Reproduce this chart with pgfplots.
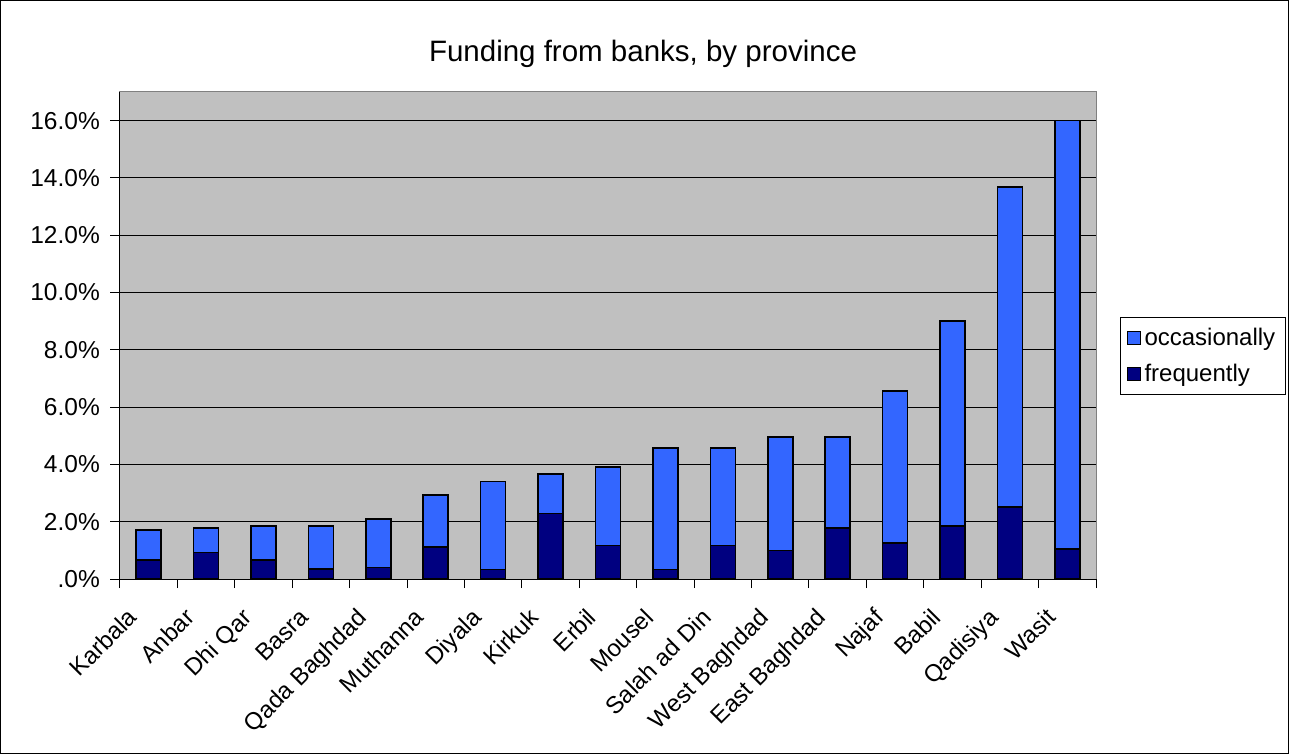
\documentclass[border=0pt]{standalone}
\usepackage{fontspec}
\setmainfont{Liberation Sans}
\usepackage{pgfplots}
\pgfplotsset{compat=1.18}
\definecolor{occ}{HTML}{3366FF}
\definecolor{freq}{HTML}{000080}
\definecolor{plotbg}{HTML}{C0C0C0}
\begin{document}
\begin{tikzpicture}[x=1pt,y=1pt]
\useasboundingbox (-120,-175) rectangle (1169,579);
\draw[black, line width=1pt] (-119.5,-174.5) rectangle (1168.5,578.5);
\begin{axis}[
  at={(0,0)}, anchor=south west,
  scale only axis, width=976pt, height=487pt,
  ybar stacked, bar width=25pt,
  xmin=-0.5, xmax=16.5, ymin=0, ymax=17,
  axis background/.style={fill=plotbg, draw=gray, line width=1pt},
  axis x line*=bottom, axis y line*=left,
  axis line style={black, line width=1pt, -},
  ymajorgrids, major grid style={black, line width=0.9pt},
  ytick={0,2,4,6,8,10,12,14,16},
  yticklabels={.0\%,2.0\%,4.0\%,6.0\%,8.0\%,10.0\%,12.0\%,14.0\%,16.0\%},
  xtick={0,...,16},
  xticklabels={Karbala,Anbar,Dhi Qar,Basra,Qada Baghdad,Muthanna,Diyala,Kirkuk,Erbil,Mousel,Salah ad Din,West Baghdad,East Baghdad,Najaf,Babil,Qadisiya,Wasit},
  minor xtick={-0.5,0.5,...,16.5},
  major x tick style={draw=none},
  minor x tick style={black, line width=1pt},
  ytick style={black, line width=1pt},
  tick align=outside,
  major tick length=10pt, minor tick length=9pt,
  yticklabel style={font=\fontsize{24.5}{28}\selectfont, anchor=east, inner sep=2pt, xshift=-8pt},
  xticklabel style={font=\fontsize{24}{28}\selectfont, rotate=45, anchor=north east, inner sep=2pt, xshift=-26.5pt, yshift=5.5pt},
  reverse legend,
  legend style={at={(1.0246,0.538)}, anchor=north west, draw=black, fill=white,
    font=\fontsize{24}{28}\selectfont, row sep=15pt, inner xsep=6pt, inner ysep=10pt, line width=1pt,
    legend cell align=left, nodes={inner xsep=4pt, inner ysep=1pt}},
  legend image code/.code={\draw[#1, line width=1pt] (0pt,-6.5pt) rectangle (13pt,6.5pt);},
]
\addplot[fill=freq, draw=black, line width=1.6pt] coordinates {
 (0,0.66) (1,0.93) (2,0.66) (3,0.34) (4,0.40) (5,1.11) (6,0.33) (7,2.29) (8,1.17)
 (9,0.33) (10,1.17) (11,0.99) (12,1.78) (13,1.25) (14,1.86) (15,2.51) (16,1.05)};
\addplot[fill=occ, draw=black, line width=1.6pt] coordinates {
 (0,1.06) (1,0.85) (2,1.18) (3,1.50) (4,1.69) (5,1.83) (6,3.07) (7,1.37) (8,2.75)
 (9,4.24) (10,3.40) (11,3.96) (12,3.17) (13,5.32) (14,7.15) (15,11.17) (16,14.95)};
\legend{frequently, occasionally}
\end{axis}
\node[font=\fontsize{29.5}{33}\selectfont] at (523,525) {Funding from banks, by province};
\end{tikzpicture}
\end{document}
